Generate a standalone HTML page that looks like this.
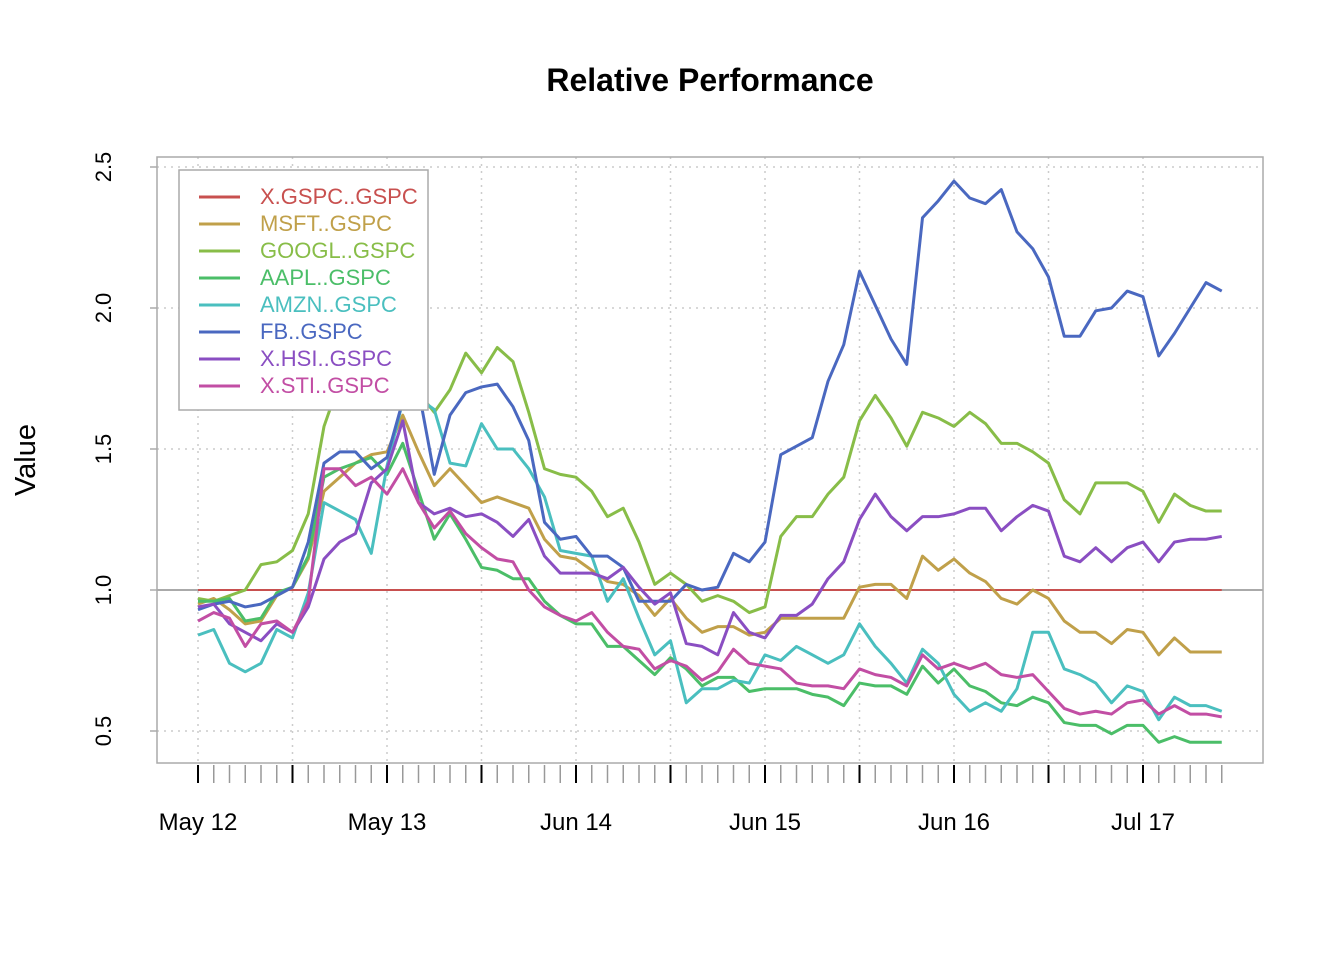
<!DOCTYPE html>
<html><head><meta charset="utf-8"><style>
body{margin:0;background:#fff;}
svg text{font-family:"Liberation Sans",Arial,sans-serif;}
</style></head><body>
<svg id="chart" width="1344" height="960">
<rect width="1344" height="960" fill="#fff"/>
<text x="710" y="91" text-anchor="middle" font-size="32" font-weight="bold">Relative Performance</text>
<text transform="translate(35,460) rotate(-90)" text-anchor="middle" font-size="29">Value</text>
<g id="grid"></g><g id="axes"></g><g id="series"></g><g id="legend"></g>
</svg>
<script>
const labels = ["X.GSPC..GSPC","MSFT..GSPC","GOOGL..GSPC","AAPL..GSPC","AMZN..GSPC","FB..GSPC","X.HSI..GSPC","X.STI..GSPC"];
const colors = ["#C8504F","#C0A04A","#88BD48","#4BBE68","#4ABFBF","#4A68C0","#8A4EC2","#C24EA4"];
const gspc = new Array(66).fill(1.0);
const msft = [0.95,0.97,0.93,0.88,0.89,0.98,1.01,1.11,1.35,1.40,1.45,1.48,1.49,1.62,1.49,1.37,1.43,1.37,1.31,1.33,1.31,1.29,1.18,1.12,1.11,1.07,1.03,1.02,0.98,0.91,0.97,0.90,0.85,0.87,0.87,0.84,0.85,0.90,0.90,0.90,0.90,0.90,1.01,1.02,1.02,0.97,1.12,1.07,1.11,1.06,1.03,0.97,0.95,1.00,0.97,0.89,0.85,0.85,0.81,0.86,0.85,0.77,0.83,0.78,0.78,0.78];
const googl = [0.97,0.96,0.98,1.00,1.09,1.10,1.14,1.27,1.58,1.74,1.76,1.78,1.74,1.73,1.70,1.63,1.71,1.84,1.77,1.86,1.81,1.63,1.43,1.41,1.40,1.35,1.26,1.29,1.17,1.02,1.06,1.02,0.96,0.98,0.96,0.92,0.94,1.19,1.26,1.26,1.34,1.40,1.60,1.69,1.61,1.51,1.63,1.61,1.58,1.63,1.59,1.52,1.52,1.49,1.45,1.32,1.27,1.38,1.38,1.38,1.35,1.24,1.34,1.30,1.28,1.28];
const aapl = [0.96,0.96,0.97,0.89,0.90,0.99,1.01,1.12,1.40,1.43,1.45,1.47,1.41,1.52,1.35,1.18,1.27,1.18,1.08,1.07,1.04,1.04,0.96,0.91,0.88,0.88,0.80,0.80,0.75,0.70,0.76,0.72,0.66,0.69,0.69,0.64,0.65,0.65,0.65,0.63,0.62,0.59,0.67,0.66,0.66,0.63,0.73,0.67,0.72,0.66,0.64,0.60,0.59,0.62,0.60,0.53,0.52,0.52,0.49,0.52,0.52,0.46,0.48,0.46,0.46,0.46];
const amzn = [0.84,0.86,0.74,0.71,0.74,0.86,0.83,0.99,1.31,1.28,1.25,1.13,1.44,1.67,1.68,1.64,1.45,1.44,1.59,1.50,1.50,1.43,1.33,1.14,1.13,1.12,0.96,1.04,0.90,0.77,0.82,0.60,0.65,0.65,0.68,0.67,0.77,0.75,0.80,0.77,0.74,0.77,0.88,0.80,0.74,0.67,0.79,0.74,0.63,0.57,0.60,0.57,0.65,0.85,0.85,0.72,0.70,0.67,0.60,0.66,0.64,0.54,0.62,0.59,0.59,0.57];
const fb = [0.93,0.95,0.96,0.94,0.95,0.98,1.01,1.17,1.45,1.49,1.49,1.43,1.47,1.67,1.71,1.41,1.62,1.70,1.72,1.73,1.65,1.53,1.24,1.18,1.19,1.12,1.12,1.08,0.96,0.96,0.96,1.02,1.00,1.01,1.13,1.10,1.17,1.48,1.51,1.54,1.74,1.87,2.13,2.01,1.89,1.80,2.32,2.38,2.45,2.39,2.37,2.42,2.27,2.21,2.11,1.90,1.90,1.99,2.00,2.06,2.04,1.83,1.91,2.00,2.09,2.06];
const hsi = [0.94,0.95,0.88,0.85,0.82,0.88,0.85,0.94,1.11,1.17,1.20,1.38,1.43,1.60,1.31,1.27,1.29,1.26,1.27,1.24,1.19,1.25,1.12,1.06,1.06,1.06,1.04,1.08,1.01,0.95,0.99,0.81,0.80,0.77,0.92,0.85,0.83,0.91,0.91,0.95,1.04,1.10,1.25,1.34,1.26,1.21,1.26,1.26,1.27,1.29,1.29,1.21,1.26,1.30,1.28,1.12,1.10,1.15,1.10,1.15,1.17,1.10,1.17,1.18,1.18,1.19];
const sti = [0.89,0.92,0.90,0.80,0.88,0.89,0.85,0.96,1.43,1.43,1.37,1.40,1.34,1.43,1.31,1.22,1.28,1.20,1.15,1.11,1.10,1.00,0.94,0.91,0.89,0.92,0.85,0.80,0.79,0.72,0.75,0.73,0.68,0.71,0.79,0.74,0.73,0.72,0.67,0.66,0.66,0.65,0.72,0.70,0.69,0.66,0.77,0.72,0.74,0.72,0.74,0.70,0.69,0.70,0.64,0.58,0.56,0.57,0.56,0.60,0.61,0.56,0.59,0.56,0.56,0.55];
const yTicks = [0.5,1.0,1.5,2.0,2.5];
const xTickLabels = ["May 12","May 13","Jun 14","Jun 15","Jun 16","Jul 17"];
const xLabelIdx = [0,12,24,36,48,60];

const NS="http://www.w3.org/2000/svg";
const X0=198, DX=15.75, Y1=590, SY=282;
function xs(i){return X0+DX*i;}
function ys(v){return Y1-(v-1)*SY;}
function mk(tag,attrs,parent){const e=document.createElementNS(NS,tag);for(const k in attrs)e.setAttribute(k,attrs[k]);parent.appendChild(e);return e;}
const grid=document.getElementById('grid'),axes=document.getElementById('axes'),ser=document.getElementById('series'),leg=document.getElementById('legend');
const n=gspc.length;
for(let i=0;i<n;i+=6){const g=mk('line',{x1:xs(i),x2:xs(i),y1:157,y2:763,stroke:'#ccc','stroke-width':1.5,'stroke-dasharray':'2,5'},grid);

}
yTicks.forEach(v=>{const g=mk('line',{x1:157,x2:1263,y1:ys(v),y2:ys(v),stroke:'#ccc','stroke-width':1.5,'stroke-dasharray':'2,5'},grid);

});
const box=mk('rect',{x:157,y:157,width:1106,height:606,fill:'none',stroke:'#aaa','stroke-width':1.5},axes);


yTicks.forEach(v=>{const t=mk('line',{x1:150,x2:157,y1:ys(v),y2:ys(v),stroke:'#aaa','stroke-width':1.5},axes);


const l=mk('text',{transform:`translate(111,${ys(v)}) rotate(-90)`,'text-anchor':'middle','font-size':22,fill:'#000'},axes);l.textContent=v.toFixed(1);

});
for(let i=0;i<n;i++){const major=i%6===0;const t=mk('line',{x1:xs(i),x2:xs(i),y1:765,y2:783,stroke:major?'#000':'#999','stroke-width':major?2:1.5},axes);

}
xLabelIdx.forEach((idx,k)=>{const l=mk('text',{x:xs(idx),y:830,'text-anchor':'middle','font-size':24},axes);l.textContent=xTickLabels[k];

});
const ref=mk('line',{x1:157,x2:1263,y1:ys(1),y2:ys(1),stroke:'#aaa','stroke-width':2},ser);


const all=[gspc,msft,googl,aapl,amzn,fb,hsi,sti];
const names=['gspc-line','msft-line','googl-line','aapl-line','amzn-line','fb-line','hsi-line','sti-line'];
all.forEach((s,k)=>{const p=s.map((v,i)=>xs(i)+','+ys(v)).join(' ');
const pl=mk('polyline',{points:p,fill:'none',stroke:colors[k],'stroke-width':k===0?2:3,'stroke-linejoin':'round'},ser);

});
const lb=mk('rect',{x:179,y:170,width:249,height:240,fill:'#fff',stroke:'#aaa','stroke-width':1.5},leg);


labels.forEach((t,k)=>{const y=197+27*k;
const ln=mk('line',{x1:199,x2:240,y1:y,y2:y,stroke:colors[k],'stroke-width':3},leg);


const tx=mk('text',{x:260,y:y+7,'font-size':22,fill:colors[k]},leg);tx.textContent=t;

});
</script>
</body></html>
